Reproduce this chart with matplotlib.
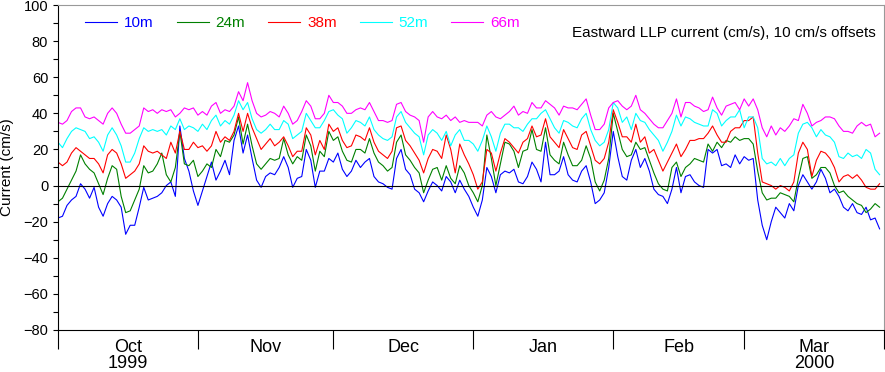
#llp_currents.py
#eastward LLP current, 5 depths, drawn with 10 cm/s offsets

import numpy as np
import pandas as pd
import matplotlib
matplotlib.use('Agg')
import matplotlib.pyplot as plt
import matplotlib.dates as mdates

plt.rcParams['font.family'] = ['Liberation Sans', 'DejaVu Sans']

#daily values as drawn (cm/s), starting 1 Oct 1999, each depth already shifted by its offset
inicio = '1999-10-01'
profundidades = ['10m', '24m', '38m', '52m', '66m']
colores = ['#0000ff', '#008000', '#ff0000', '#00ffff', '#ff00ff']

u_10m = [-18, -17, -11, -8, -6, 1, -2, -7, -1, -12,
         -17, -10, -6, -8, -12, -27, -22, -22, -12, -1,
         -8, -7, -6, -4, 0, 2, -6, 33, 15, 8,
         -3, -11, -3, 5, 13, 3, 8, 14, 6, 25,
         33, 18, 28, 15, 3, -1, 5, 7, 6, 10,
         16, 10, -1, 4, 5, 20, 14, -1, 8, 8,
         15, 13, 18, 9, 5, 8, 14, 10, 13, 15,
         5, 2, 1, -1, -2, 15, 20, 9, 6, -2,
         -4, -9, -3, 2, 0, -3, 5, 2, -4, 3,
         -2, -6, -12, -17, -8, 10, 5, -4, 6, 8,
         7, 9, 2, 1, 5, 13, 9, 2, 24, 6,
         6, 8, 16, 6, 3, 2, 8, 11, 2, -10,
         -8, -4, 10, 30, 16, 5, 3, 14, 20, 10,
         15, 8, -2, -5, -6, -10, -2, 10, -4, 5,
         6, 2, 0, -1, 20, 18, 20, 11, 12, 10,
         17, 12, 16, 14, 15, -8, -22, -30, -20, -12,
         -15, -18, -10, -14, 0, 6, 2, -2, 2, 9,
         4, -4, -2, -6, -12, -14, -10, -15, -16, -12, -19, -18, -24]

u_24m = [-9, -7, -2, 3, 8, 17, 12, 9, 7, 1,
         -5, 4, 11, 9, -6, -15, -14, -8, -2, 11,
         7, 8, 12, 18, 6, 2, 10, 30, 12, 11,
         14, 5, 8, 12, 10, 20, 16, 25, 24, 28,
         38, 23, 34, 22, 12, 9, 12, 15, 14, 15,
         26, 17, 12, 16, 14, 28, 22, 8, 19, 16,
         30, 25, 27, 19, 14, 13, 20, 20, 18, 26,
         18, 13, 11, 8, 10, 24, 28, 17, 14, 10,
         7, -4, 3, 9, 10, 3, 11, 4, 1, 11,
         7, 0, -4, -9, 0, 28, 15, 0, 12, 24,
         23, 19, 10, 19, 20, 31, 20, 19, 32, 17,
         14, 12, 24, 17, 11, 11, 14, 22, 15, 2,
         -3, 3, 15, 40, 30, 20, 16, 17, 24, 20,
         21, 14, 7, 1, -2, -3, 10, 13, 5, 10,
         12, 15, 14, 13, 23, 19, 24, 21, 25, 24,
         27, 25, 26, 26, 23, 8, -4, -8, -7, -7,
         -4, -5, -6, -9, 4, 15, 16, 4, 6, 10,
         10, 7, 0, -4, -3, -6, -8, -10, -11, -15, -13, -10, -12]

u_38m = [13, 11, 13, 18, 21, 19, 17, 15, 15, 12,
         7, 17, 20, 18, 12, 4, 6, 8, 12, 22,
         19, 18, 19, 17, 15, 24, 18, 30, 20, 20,
         24, 21, 22, 19, 22, 30, 24, 27, 25, 30,
         40, 30, 40, 32, 26, 20, 23, 26, 22, 24,
         27, 22, 16, 19, 19, 32, 28, 17, 25, 20,
         34, 30, 32, 25, 21, 22, 28, 27, 25, 32,
         24, 19, 17, 15, 19, 32, 33, 25, 22, 18,
         14, 7, 15, 20, 19, 15, 28, 20, 7, 23,
         17, 12, 6, -2, 2, 20, 18, 8, 18, 26,
         24, 21, 18, 24, 26, 33, 27, 28, 37, 27,
         24, 21, 31, 26, 21, 20, 28, 30, 22, 14,
         12, 15, 24, 42, 35, 27, 27, 24, 34, 24,
         27, 18, 20, 14, 8, 13, 18, 23, 16, 20,
         25, 25, 26, 26, 29, 33, 28, 24, 24, 30,
         32, 32, 36, 36, 38, 18, 2, 1, 0, -2,
         0, -1, -3, 2, 18, 24, 20, 5, 14, 19,
         18, 15, 10, 2, 5, 6, 4, 6, 3, -1, -2, -2, 1]

u_52m = [24, 21, 26, 30, 32, 31, 30, 26, 27, 24,
         19, 28, 32, 28, 22, 13, 13, 18, 26, 32,
         30, 31, 30, 31, 28, 33, 31, 37, 31, 33,
         32, 30, 34, 31, 36, 39, 33, 36, 34, 39,
         47, 42, 46, 37, 31, 29, 31, 34, 31, 31,
         36, 34, 26, 28, 30, 40, 36, 32, 32, 36,
         41, 42, 39, 37, 29, 32, 36, 35, 33, 38,
         31, 28, 26, 25, 27, 38, 41, 35, 32, 29,
         27, 17, 28, 31, 29, 25, 30, 22, 28, 31,
         25, 25, 23, 19, 25, 33, 27, 19, 29, 34,
         34, 32, 32, 30, 34, 37, 37, 40, 42, 37,
         32, 29, 36, 35, 33, 32, 37, 40, 31, 25,
         22, 24, 31, 46, 43, 35, 38, 31, 40, 36,
         35, 31, 28, 25, 19, 24, 30, 39, 33, 38,
         37, 35, 34, 33, 33, 42, 40, 33, 36, 38,
         38, 42, 32, 38, 38, 32, 15, 12, 13, 11,
         15, 11, 15, 17, 29, 34, 35, 32, 27, 31,
         28, 27, 24, 16, 15, 18, 16, 17, 15, 20, 18, 9, 6]

u_66m = [35, 34, 36, 41, 43, 43, 38, 37, 38, 36,
         34, 40, 43, 40, 34, 29, 29, 31, 33, 43,
         41, 42, 40, 42, 41, 42, 38, 40, 43, 42,
         43, 39, 41, 39, 44, 46, 40, 42, 41, 44,
         52, 47, 57, 47, 40, 38, 39, 41, 40, 38,
         44, 40, 34, 36, 41, 47, 44, 37, 37, 40,
         50, 46, 46, 44, 40, 40, 42, 43, 42, 46,
         41, 36, 36, 35, 36, 45, 46, 41, 39, 38,
         36, 24, 38, 41, 38, 37, 39, 36, 38, 35,
         36, 35, 35, 35, 33, 39, 41, 38, 37, 39,
         41, 44, 39, 41, 40, 46, 43, 43, 47, 45,
         43, 39, 44, 43, 43, 42, 45, 48, 39, 31,
         31, 34, 43, 46, 47, 44, 42, 44, 50, 42,
         40, 37, 34, 32, 32, 36, 40, 48, 38, 46,
         46, 44, 43, 41, 42, 49, 43, 39, 44, 45,
         46, 42, 48, 44, 48, 42, 32, 27, 33, 28,
         32, 30, 33, 37, 36, 45, 40, 33, 35, 36,
         38, 38, 37, 33, 30, 30, 29, 33, 35, 33, 34, 27, 29]

series = [u_10m, u_24m, u_38m, u_52m, u_66m]

#month labels (centered in each month) and month boundaries
meses = ['Oct\n1999', 'Nov', 'Dec', 'Jan', 'Feb', 'Mar\n2000']
bordes = pd.date_range('1999-10-01', '2000-04-01', freq='MS')

fechas = pd.date_range(inicio, periods=len(u_10m), freq='D')
centros = bordes[:-1] + (bordes[1:] - bordes[:-1]) / 2

fig = plt.figure(figsize=(8.85, 3.72), dpi=100)
ax = fig.add_axes([0.0655, 0.113, 0.9335, 0.8735])

for u, prof, col in zip(series, profundidades, colores):
    ax.plot(fechas, np.array(u), color=col, lw=0.8, label=prof)

ax.axhline(0, color='black', lw=0.8)

ax.set_xlim(bordes[0], bordes[-1])
ax.set_ylim(-80, 100)
ax.set_yticks(np.arange(-80, 101, 20))
ax.set_yticks(np.arange(-80, 101, 10), minor=True)
ax.tick_params(axis='y', which='both', direction='out', length=3.5, width=0.8,
               labelsize=10.5, right=False)

ax.xaxis.set_major_locator(mdates.MonthLocator())
ax.xaxis.set_major_formatter(plt.NullFormatter())
ax.set_xticks(centros, minor=True)
ax.set_xticklabels(meses, minor=True)
ax.tick_params(axis='x', which='major', direction='out', length=14, width=0.8)
ax.tick_params(axis='x', which='minor', length=0, pad=6.5, labelsize=13)
for t in ax.xaxis.get_minorticklabels():
    t.set_linespacing(0.95)

for lado in ['top', 'right']:
    ax.spines[lado].set_color('#999999')
    ax.spines[lado].set_linewidth(0.8)
for lado in ['left', 'bottom']:
    ax.spines[lado].set_linewidth(0.8)

ax.set_ylabel('Current (cm/s)', fontsize=11)
ax.yaxis.set_label_coords(-0.053, 0.5)

ax.text(0.99, 0.914, 'Eastward LLP current (cm/s), 10 cm/s offsets',
        transform=ax.transAxes, ha='right', va='center', fontsize=11)

ley = ax.legend(loc='center left', bbox_to_anchor=(0.033, 0.945), ncol=5,
                frameon=False, fontsize=11, handlelength=2.1, handletextpad=0.45,
                columnspacing=1.5, borderpad=0, borderaxespad=0, labelcolor='linecolor')

plt.savefig('out.png', dpi=100)
